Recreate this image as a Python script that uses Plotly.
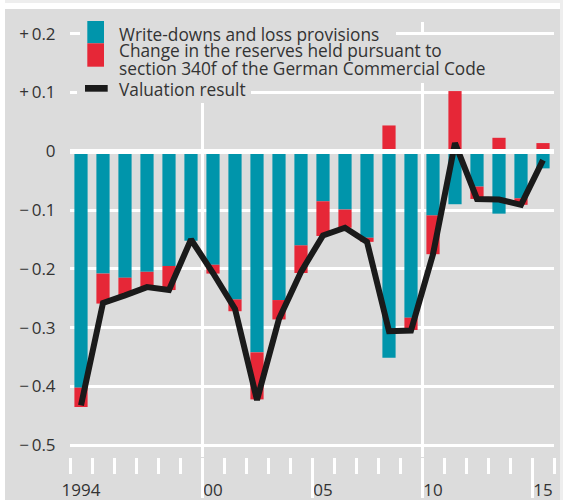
import plotly.graph_objects as go

years = list(range(1994, 2016))
write_downs = [-0.402, -0.208, -0.215, -0.205, -0.195, -0.152, -0.193, -0.252, -0.342, -0.253,
               -0.160, -0.085, -0.099, -0.147, -0.351, -0.283, -0.109, -0.090, -0.060, -0.106,
               -0.080, -0.029]
reserves_change = [-0.033, -0.051, -0.030, -0.026, -0.041, 0.0, -0.015, -0.020, -0.080, -0.033,
                   -0.047, -0.059, -0.031, -0.007, 0.044, -0.021, -0.066, 0.1025, -0.021, 0.023,
                   -0.011, 0.014]
valuation_result = [-0.432, -0.258, -0.245, -0.231, -0.236, -0.150, -0.207, -0.268, -0.423, -0.285,
                    -0.205, -0.143, -0.130, -0.154, -0.306, -0.305, -0.175, 0.014, -0.081, -0.082,
                    -0.091, -0.015]

y_tickvals = [0.2, 0.1, 0.0, -0.1, -0.2, -0.3, -0.4, -0.5]
y_ticktext = ["+\u20090.2", "+\u20090.1", "0", "\u2212\u20090.1", "\u2212\u20090.2",
              "\u2212\u20090.3", "\u2212\u20090.4", "\u2212\u20090.5"]
x_label_vals = [1994, 2000, 2005, 2010, 2015]
x_label_text = ["1994", "00", "05", "10", "15"]

legend_labels = ["Write-downs and loss provisions",
                 "Change in the reserves held pursuant to",
                 "section 340f of the German Commercial Code",
                 "Valuation result"]

TEAL = "#0095AB"
RED = "#E62737"
BLACK = "#1A1A1A"
BG = "#DCDCDC"
TXT = "#333333"
FONT = "Open Sans"

W, H = 563, 500
ML, MR, MT, MB = 70, 9, 22, 43
PW, PH = W - ML - MR, H - MT - MB


def px(xp):
    return (xp - ML) / PW


def py(yp):
    return (H - MB - yp) / PH


fig = go.Figure()
fig.add_trace(go.Bar(x=years, y=write_downs, marker=dict(color=TEAL, line=dict(width=0)),
                     width=0.6, showlegend=False, hoverinfo="skip"))
fig.add_trace(go.Bar(x=years, y=reserves_change, marker=dict(color=RED, line=dict(width=0)),
                     width=0.6, showlegend=False, hoverinfo="skip"))
fig.add_trace(go.Scatter(x=years, y=valuation_result, mode="lines", xaxis="x2", yaxis="y2",
                         line=dict(color=BLACK, width=6), showlegend=False, hoverinfo="skip"))

boundaries = [y - 0.5 for y in years] + [years[-1] + 0.5]

fig.update_layout(
    width=W, height=H,
    margin=dict(l=ML, r=MR, t=MT, b=MB, autoexpand=False),
    paper_bgcolor=BG, plot_bgcolor=BG,
    barmode="relative",
    font=dict(family=FONT, size=16, color=TXT),
    xaxis=dict(range=[1993.5, 2015.5], tickmode="array", tickvals=x_label_vals,
               ticktext=x_label_text, ticks="outside", ticklen=18, tickcolor="rgba(0,0,0,0)",
               showgrid=False, zeroline=False, showline=False, automargin=False,
               tickfont=dict(size=17, color=TXT),
               minor=dict(tickmode="array", tickvals=boundaries, ticks="outside", ticklen=16,
                          tickwidth=3, tickcolor="white", showgrid=False)),
    xaxis2=dict(overlaying="x", matches="x", anchor="y2", side="bottom", automargin=False,
                tickmode="array", tickvals=[2004.5, 2014.5], ticks="outside", ticklen=40,
                tickwidth=3, tickcolor="white", showticklabels=False, showgrid=False,
                zeroline=False,
                minor=dict(tickmode="array", tickvals=[1999.5, 2009.5], ticks="outside",
                           ticklen=40, tickwidth=3, tickcolor="white", showgrid=True,
                           gridcolor="white", gridwidth=3)),
    yaxis=dict(range=[-0.52, 0.22], tickmode="array", tickvals=y_tickvals, ticktext=y_ticktext,
               showgrid=True, gridcolor="white", gridwidth=3, automargin=False,
               zeroline=True, zerolinecolor="white", zerolinewidth=5,
               zerolinelayer="above traces",
               ticks="outside", ticklen=10, tickcolor="rgba(0,0,0,0)",
               tickfont=dict(size=17, color=TXT)),
    yaxis2=dict(overlaying="y", matches="y", visible=False, automargin=False),
    hovermode=False,
)

shapes = []
# outer frame strips
shapes.append(dict(type="rect", xref="paper", yref="paper", x0=px(0), x1=px(W), y0=py(9), y1=py(0),
                   fillcolor="white", line=dict(width=0), layer="above"))
shapes.append(dict(type="rect", xref="paper", yref="paper", x0=px(0), x1=px(W), y0=py(3), y1=py(0),
                   fillcolor="#EEEEEE", line=dict(width=0), layer="above"))
shapes.append(dict(type="rect", xref="paper", yref="paper", x0=px(0), x1=px(5), y0=py(H), y1=py(0),
                   fillcolor="white", line=dict(width=0), layer="above"))
shapes.append(dict(type="rect", xref="paper", yref="paper", x0=px(560), x1=px(W), y0=py(H), y1=py(0),
                   fillcolor="#EEEEEE", line=dict(width=0), layer="above"))
# legend background boxes
for (x0, x1, y0, y1) in [(80, 396, 20, 40), (80, 497, 35, 83), (77, 251, 78, 103)]:
    shapes.append(dict(type="rect", xref="paper", yref="paper", x0=px(x0), x1=px(x1),
                       y0=py(y1), y1=py(y0), fillcolor=BG, line=dict(width=0), layer="above"))
# legend symbols
shapes.append(dict(type="rect", xref="paper", yref="paper", x0=px(87.3), x1=px(104),
                   y0=py(43.3), y1=py(21), fillcolor=TEAL, line=dict(width=0), layer="above"))
shapes.append(dict(type="rect", xref="paper", yref="paper", x0=px(87.3), x1=px(104),
                   y0=py(66.7), y1=py(43.3), fillcolor=RED, line=dict(width=0), layer="above"))
shapes.append(dict(type="rect", xref="paper", yref="paper", x0=px(85), x1=px(107.7),
                   y0=py(91.7), y1=py(85), fillcolor=BLACK, line=dict(width=0), layer="above"))
fig.update_layout(shapes=shapes)

for label, yc in zip(legend_labels, [34.5, 51, 68, 89.5]):
    fig.add_annotation(text=label, xref="paper", yref="paper", x=px(116.7), y=py(yc),
                       xanchor="left", yanchor="middle", showarrow=False,
                       font=dict(family=FONT, size=17.3, color=TXT))

fig.write_html("out.html", config={"displayModeBar": False, "staticPlot": True},
               post_script="document.body.style.margin='0px';")
